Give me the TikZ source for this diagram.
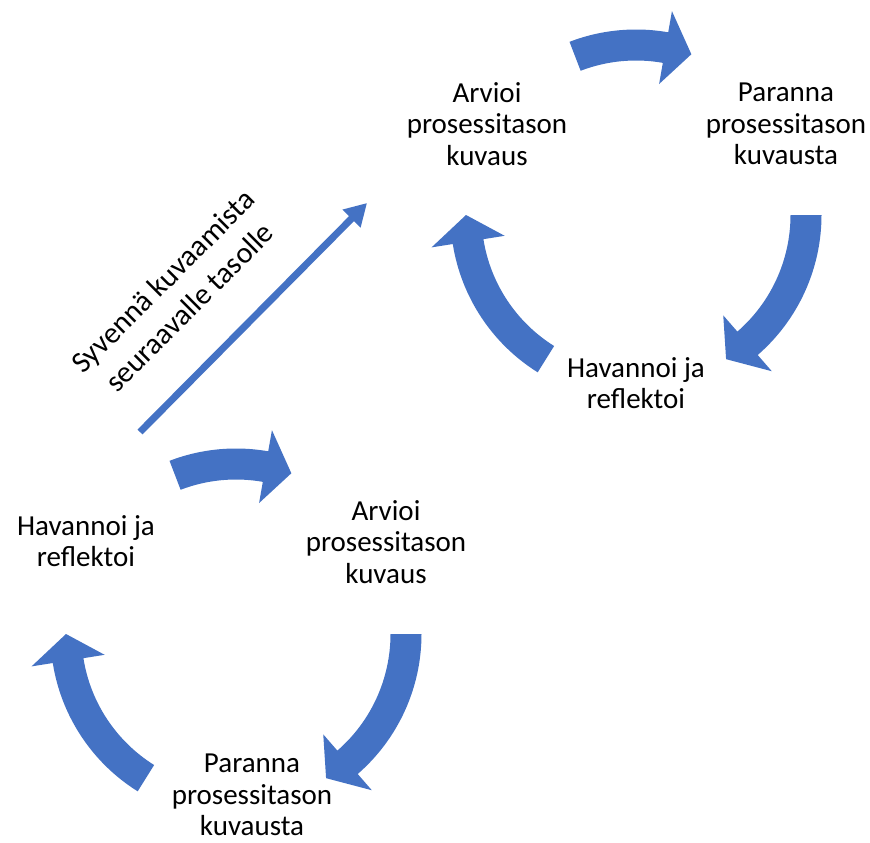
\documentclass[tikz,border=0pt]{standalone}
\usepackage{fontspec}
\setmainfont{Carlito}
\usetikzlibrary{arrows.meta}
\definecolor{officeblue}{HTML}{4472C4}

% radii of the curved block arrows (shaft and head)
\def\cycR{170}
\def\cycRin{154.5}
\def\cycRout{185.5}
\def\cycHin{133}
\def\cycHout{207}

% curved block arrow around the scope origin: #1 tail angle, #2 head base angle, #3 tip angle
\newcommand{\cyclearrow}[3]{%
  \fill[officeblue] (#1:\cycRin) arc[start angle=#1, end angle=#2, radius=\cycRin]
    -- (#2:\cycHin) -- (#3:\cycR) -- (#2:\cycHout) -- (#2:\cycRout)
    arc[start angle=#2, end angle=#1, radius=\cycRout] -- cycle;}

\tikzset{
  label text/.style={align=center, text=black, font=\fontsize{29}{31.5}\selectfont, inner sep=0pt},
  level text/.style={align=center, text=black, font=\fontsize{30}{37}\selectfont, inner sep=0pt},
  level arrow/.style={draw=officeblue, line width=7pt, -{Triangle[length=22pt,width=24pt]}},
}

\begin{document}
\begin{tikzpicture}[x=1pt, y=1pt]
\useasboundingbox[fill=white] (0,0) rectangle (870,-843);

% upper cycle
\begin{scope}[shift={(636,-215)}]
  \cyclearrow{111}{80}{71}
  \cyclearrow{0}{-49}{-58}
  \cyclearrow{238}{189}{180}
\end{scope}
\node[label text] (arvioiA) at (487,-124) {Arvioi\\prosessitason\\kuvaus};
\node[label text] (parannaA) at (786,-124) {Paranna\\prosessitason\\kuvausta};
\node[label text] (havannoiA) at (636,-383) {Havannoi ja\\reflektoi};

% lower cycle
\begin{scope}[shift={(236,-634)}]
  \cyclearrow{111}{80}{71}
  \cyclearrow{0}{-49}{-58}
  \cyclearrow{238}{189}{180}
\end{scope}
\node[label text] (havannoiB) at (86,-541) {Havannoi ja\\reflektoi};
\node[label text] (arvioiB) at (386,-542) {Arvioi\\prosessitason\\kuvaus};
\node[label text] (parannaB) at (252,-795) {Paranna\\prosessitason\\kuvausta};

% step to the next level
\coordinate (levelStart) at (140,-432);
\coordinate (levelEnd) at (367,-203);
\draw[level arrow] (levelStart) -- (levelEnd);
\node[level text, rotate=45] (levelText) at (176,-294) {Syvennä kuvaamista\\seuraavalle tasolle};
\end{tikzpicture}
\end{document}
